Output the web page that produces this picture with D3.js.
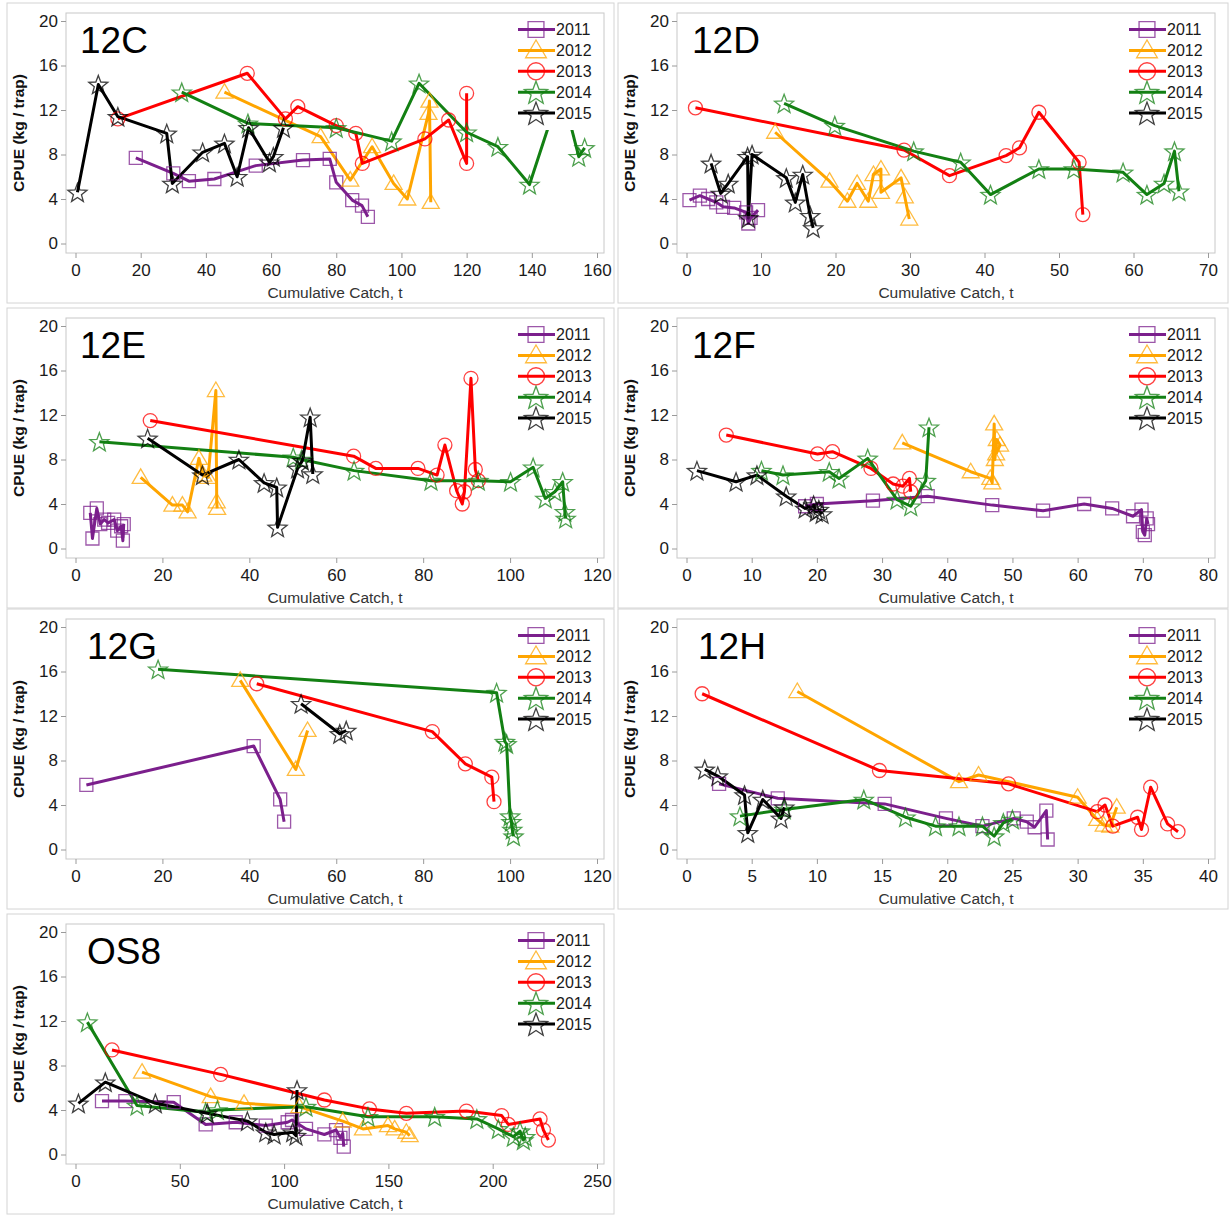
<!DOCTYPE html>
<html>
<head>
<meta charset="utf-8">
<script src="https://cdn.jsdelivr.net/npm/d3@7"></script>
<style>
  body { margin: 0; background: #fff; }
  svg text { font-family: "Liberation Sans", Arial, sans-serif; }
</style>
</head>
<body>
<div id="chart"></div>
<script>
const years = ["2011", "2012", "2013", "2014", "2015"];
const colors = ["#7b1f8c", "#ffa500", "#ff0000", "#138013", "#000000"];
const shapes = ["square", "triangle", "circle", "star", "star"];

const panelNames = ["12C", "12D", "12E", "12F", "12G", "12H", "OS8"];
const xMax = [160, 70, 120, 80, 120, 40, 250];
const xStep = [20, 10, 20, 10, 20, 5, 50];
const yTicks = [0, 4, 8, 12, 16, 20];

// [cumulative catch t, CPUE kg/trap]
const c12C_2011 = [[18.5,7.7],[30,6.3],[34.8,5.6],[42.6,5.8],[55.3,7.0],[69.8,7.5],[78,7.6],[80,5.5],[84.9,3.9],[87.9,3.4],[89.7,2.4]];
const c12C_2012 = [[45.7,13.6],[75.2,9.6],[84.3,5.7],[91,8.7],[97.6,5.4],[101.8,4.0],[108.3,11.7],[108.6,12.8],[109,3.7]];
const c12C_2013 = [[13,11.2],[52.7,15.3],[64.4,11.2],[68.2,12.3],[80,10.6],[86,9.9],[88,7.2],[107.2,9.4],[114.5,11.1],[120,7.2],[120,13.5]];
const c12C_2014 = [[32.6,13.6],[52.9,10.8],[80,10.4],[97,9.2],[105.4,14.4],[120,10.0],[129.6,8.7],[139.3,5.3],[149,14.0],[154.4,7.8],[156.2,8.6]];
const c12C_2015 = [[0.6,4.6],[7,14.3],[13,11.4],[28,9.9],[29.7,5.4],[39,8.2],[45.7,9.0],[49.6,6.0],[53.1,10.4],[59.5,7.3],[60.7,7.8],[63.8,10.4]];

const c12D_2011 = [[0.4,3.9],[1.8,4.3],[2.9,4.0],[4.0,3.7],[4.9,3.3],[6.4,3.2],[8.0,2.8],[8.3,1.8],[8.6,2.3],[9.6,3.0]];
const c12D_2012 = [[11.9,10.0],[19.2,5.6],[21.6,3.8],[22.9,5.4],[24.4,3.8],[25.1,6.2],[26.1,6.7],[26.1,4.6],[28.8,5.9],[29.3,4.2],[29.9,2.2]];
const c12D_2013 = [[1.2,12.2],[29.2,8.4],[35.3,6.1],[42.9,7.9],[44.7,8.6],[47.3,11.8],[52.7,7.3],[53.2,2.6]];
const c12D_2014 = [[13.1,12.6],[19.9,10.6],[30.5,8.3],[36.8,7.3],[40.8,4.4],[47.3,6.7],[52.0,6.7],[58.6,6.4],[61.8,4.4],[64.1,5.4],[65.5,8.3],[66.1,4.7]];
const c12D_2015 = [[3.3,7.2],[4.6,4.5],[5.6,5.4],[8.2,7.8],[8.3,2.3],[8.8,8.0],[13.4,5.9],[14.6,3.7],[15.6,6.2],[16.6,2.5],[17.0,1.4]];

const c12E_2011 = [[3.4,3.2],[3.9,0.9],[4.9,3.6],[5.7,2.2],[6.6,2.6],[7.5,2.3],[8.9,2.6],[9.6,1.6],[10.5,2.0],[10.9,0.7],[11.1,2.2]];
const c12E_2012 = [[15.0,6.4],[22.3,3.9],[24.6,3.9],[25.8,3.3],[28.4,8.1],[29.4,6.6],[30.5,6.4],[32.3,14.2],[32.5,4.2],[32.6,3.6]];
const c12E_2013 = [[17.2,11.5],[64,8.3],[69.1,7.2],[78.8,7.2],[83.2,6.6],[85,9.3],[87.7,5.2],[89,4.0],[89.5,5.1],[91,15.3],[92,7.1],[92.7,6.1]];
const c12E_2014 = [[5.5,9.6],[50.1,8.2],[52,8.0],[64.1,7.0],[81.8,6.1],[92.7,6.1],[100.1,6.0],[105.3,7.3],[108.1,4.5],[110.3,5.1],[112.1,6.0],[112.6,3.3],[112.8,2.7]];
const c12E_2015 = [[16.6,9.9],[29.2,6.6],[37.6,8.0],[43.4,5.9],[46.3,5.5],[46.5,1.9],[51.1,7.2],[52.2,7.9],[54.0,11.8],[54.6,6.7]];

const c12F_2011 = [[18.2,3.8],[20.0,4.0],[28.6,4.3],[37,4.7],[46.9,3.9],[54.7,3.4],[61,4.0],[65.3,3.6],[68.5,2.9],[69.8,3.5],[70.0,1.5],[70.3,1.2],[70.6,2.7],[70.8,2.2]];
const c12F_2012 = [[33.1,9.5],[43.6,6.9],[46.6,6.3],[46.9,5.9],[47.2,11.2],[47.3,8.0],[47.6,9.8],[48.1,9.3],[47.5,8.5]];
const c12F_2013 = [[6.1,10.2],[20.1,8.5],[22.4,8.7],[28.3,7.2],[31.7,5.8],[33.2,5.6],[34.2,6.3],[34.4,5.1]];
const c12F_2014 = [[11.5,7.0],[14.8,6.6],[21.9,6.9],[23.4,6.3],[27.8,8.1],[32.3,4.4],[34.4,3.8],[36.7,6.1],[37.2,10.9]];
const c12F_2015 = [[1.6,7.0],[7.6,6.0],[10.8,6.6],[15.3,4.7],[18.2,3.6],[19.5,3.9],[19.9,3.3],[20.3,3.5],[20.8,3.1]];

const c12G_2011 = [[2.5,5.8],[41,9.3],[47.1,4.5],[48,2.5]];
const c12G_2012 = [[37.9,15.2],[50.7,7.2],[53.4,10.7]];
const c12G_2013 = [[41.7,14.9],[82.1,10.6],[89.7,7.7],[95.8,6.5],[96.3,4.3]];
const c12G_2014 = [[19,16.2],[96.9,14.1],[98.8,9.7],[99.2,9.5],[100,3.0],[100.3,2.5],[100.5,1.8],[100.8,1.2]];
const c12G_2015 = [[51.9,13.1],[60.8,10.4],[62.3,10.7]];

const c12H_2011 = [[2.5,5.9],[7.0,4.6],[15.2,4.1],[19.9,2.8],[22.7,2.1],[25.1,2.8],[26.1,2.5],[26.7,2.0],[27.6,3.5],[27.7,0.9]];
const c12H_2012 = [[8.5,14.2],[20.9,6.1],[22.4,6.7],[30.0,4.7],[31.5,2.7],[32.0,2.2],[32.5,2.1],[33.0,3.8]];
const c12H_2013 = [[1.2,14.0],[14.8,7.1],[24.7,5.9],[31.5,3.4],[32.1,4.0],[32.7,2.1],[34.6,2.9],[34.9,1.8],[35.6,5.6],[36.9,2.3],[37.7,1.6]];
const c12H_2014 = [[4.1,3.0],[7.5,3.6],[13.6,4.5],[16.8,2.9],[19.1,2.1],[20.9,2.1],[22.7,2.1],[23.6,1.2],[24.3,2.4],[25.0,2.7]];
const c12H_2015 = [[1.4,7.2],[2.4,6.6],[4.45,4.9],[4.7,1.5],[5.85,4.5],[7.25,2.8],[7.5,3.8]];

const cOS8_2011 = [[12.7,4.8],[23.9,4.8],[47.1,4.7],[62.4,2.7],[76.8,2.9],[91.2,2.6],[101.7,2.9],[103.8,3.1],[110.5,2.3],[119.3,1.8],[124.9,2.2],[127.0,1.5],[128.1,1.9],[128.6,0.7]];
const cOS8_2012 = [[31.9,7.4],[64.8,5.2],[80.8,4.6],[107.3,4.3],[128.1,3.0],[137.8,2.3],[149.8,2.6],[153,2.3],[158.6,2.0],[160.2,1.7]];
const cOS8_2013 = [[17.5,9.4],[69.6,7.2],[119.3,4.9],[140.9,4.1],[158.6,3.7],[187.4,3.9],[204.3,3.5],[207.5,2.7],[222.7,3.2],[224.3,2.2],[226.7,1.3]];
const cOS8_2014 = [[5.7,11.9],[29.5,4.4],[62.4,3.8],[68,4.0],[110.5,4.3],[140.2,3.4],[172.2,3.4],[192.4,3.2],[202.7,2.3],[209.9,1.6],[213.1,2.1],[214.7,1.3],[215.6,1.6]];
const cOS8_2015 = [[1.4,4.6],[14.3,6.5],[38.3,4.6],[63.2,3.7],[82.4,3.0],[91.2,2.0],[95.2,1.8],[104.1,2.0],[105.7,1.7],[106.2,5.8]];

const seriesByPanel = [
  [c12C_2011, c12C_2012, c12C_2013, c12C_2014, c12C_2015],
  [c12D_2011, c12D_2012, c12D_2013, c12D_2014, c12D_2015],
  [c12E_2011, c12E_2012, c12E_2013, c12E_2014, c12E_2015],
  [c12F_2011, c12F_2012, c12F_2013, c12F_2014, c12F_2015],
  [c12G_2011, c12G_2012, c12G_2013, c12G_2014, c12G_2015],
  [c12H_2011, c12H_2012, c12H_2013, c12H_2014, c12H_2015],
  [cOS8_2011, cOS8_2012, cOS8_2013, cOS8_2014, cOS8_2015]
];

// layout
const colX = [7, 618];
const colW = [607, 610];
const rowY = [3, 308, 609, 914];
const panelH = 300;
const titleX = [73, 74, 73, 74, 80, 80, 80];

function markerPath(shape) {
  if (shape === "square") return "M-6.5,-6.5H6.5V6.5H-6.5Z";
  if (shape === "triangle") return "M0,-8.5L8.5,6L-8.5,6Z";
  if (shape === "circle") return "M7,0A7,7 0 1,1 -7,0A7,7 0 1,1 7,0Z";
  // five-point star
  const pts = d3.range(10).map((i) => {
    const r = i % 2 === 0 ? 10 : 4.2;
    const a = -Math.PI / 2 + (i * Math.PI) / 5;
    return [r * Math.cos(a), r * Math.sin(a) + 1];
  });
  return "M" + pts.map((p) => p.join(",")).join("L") + "Z";
}

const svg = d3
  .select("#chart")
  .append("svg")
  .attr("width", 1231)
  .attr("height", 1217);

panelNames.forEach((name, p) => {
  const col = p % 2;
  const row = Math.floor(p / 2);
  const px = colX[col];
  const py = rowY[row];

  const g = svg.append("g");

  // panel border
  g.append("rect")
    .attr("x", px)
    .attr("y", py)
    .attr("width", colW[col])
    .attr("height", panelH)
    .attr("fill", "none")
    .attr("stroke", "#d4d4d4")
    .attr("stroke-width", 1);

  const frame = { left: px + 59, right: px + 597, top: py + 10, bottom: py + 250 };

  const x = d3.scaleLinear().domain([0, xMax[p]]).range([px + 68.5, px + 590]);
  const y = d3.scaleLinear().domain([0, 20]).range([py + 240.5, py + 18]);

  // plot frame
  g.append("rect")
    .attr("x", frame.left)
    .attr("y", frame.top)
    .attr("width", frame.right - frame.left)
    .attr("height", frame.bottom - frame.top)
    .attr("fill", "none")
    .attr("stroke", "#c8c8c8");

  // axes
  const yAxis = d3.axisLeft(y).tickValues(yTicks).tickSize(5).tickPadding(3);
  g.append("g")
    .attr("transform", `translate(${frame.left},0)`)
    .call(yAxis)
    .call((a) => a.select(".domain").remove())
    .call((a) => a.selectAll("line").attr("stroke", "#9a9a9a"))
    .call((a) =>
      a.selectAll("text").attr("font-size", 17).attr("fill", "#1a1a1a")
        .attr("font-family", "Liberation Sans, Arial, sans-serif")
    );

  const xAxis = d3
    .axisBottom(x)
    .tickValues(d3.range(0, xMax[p] + 0.001, xStep[p]))
    .tickSize(5)
    .tickPadding(6);
  g.append("g")
    .attr("transform", `translate(0,${frame.bottom})`)
    .call(xAxis)
    .call((a) => a.select(".domain").remove())
    .call((a) => a.selectAll("line").attr("stroke", "#9a9a9a"))
    .call((a) =>
      a.selectAll("text").attr("font-size", 17).attr("fill", "#1a1a1a")
        .attr("font-family", "Liberation Sans, Arial, sans-serif")
    );

  // axis titles
  g.append("text")
    .attr("x", (frame.left + frame.right) / 2)
    .attr("y", py + 295)
    .attr("text-anchor", "middle")
    .attr("font-size", 15.5)
    .attr("fill", "#333")
    .text("Cumulative Catch, t");

  g.append("text")
    .attr("transform", `translate(${px + 11},${py + 130}) rotate(-90)`)
    .attr("text-anchor", "middle")
    .attr("dominant-baseline", "central")
    .attr("font-size", 15.5)
    .attr("font-weight", "bold")
    .attr("fill", "#111")
    .text("CPUE (kg / trap)");

  // lines
  const line = d3.line().x((d) => x(d[0])).y((d) => y(d[1]));
  const series = seriesByPanel[p];

  series.forEach((data, i) => {
    g.append("path")
      .datum(data)
      .attr("d", line)
      .attr("fill", "none")
      .attr("stroke", colors[i])
      .attr("stroke-width", 3)
      .attr("stroke-linejoin", "round");
  });

  // markers
  series.forEach((data, i) => {
    g.append("g")
      .selectAll("path")
      .data(data)
      .join("path")
      .attr("d", markerPath(shapes[i]))
      .attr("transform", (d) => `translate(${x(d[0])},${y(d[1])})`)
      .attr("fill", "none")
      .attr("stroke", colors[i])
      .attr("stroke-opacity", 0.75)
      .attr("stroke-width", 1.3);
  });

  // panel title
  g.append("text")
    .attr("x", px + titleX[p])
    .attr("y", py + 50)
    .attr("font-family", "Open Sans, sans-serif")
    .attr("font-size", 37)
    .attr("fill", "#000")
    .text(name);

  // legend with white background
  g.append("rect")
    .attr("x", px + 504)
    .attr("y", py + 12)
    .attr("width", 92)
    .attr("height", 115)
    .attr("fill", "#fff");

  years.forEach((yr, i) => {
    const ly = py + 26.5 + i * 20.9;
    const lg = g.append("g");
    lg.append("line")
      .attr("x1", px + 511)
      .attr("x2", px + 548)
      .attr("y1", ly)
      .attr("y2", ly)
      .attr("stroke", colors[i])
      .attr("stroke-width", 3);
    lg.append("path")
      .attr("d", markerPath(shapes[i]))
      .attr("transform", `translate(${px + 529},${ly}) scale(1.22)`)
      .attr("fill", "none")
      .attr("stroke", colors[i])
      .attr("stroke-opacity", 0.75)
      .attr("stroke-width", 1.1);
    lg.append("text")
      .attr("x", px + 549)
      .attr("y", ly)
      .attr("dominant-baseline", "central")
      .attr("font-size", 16)
      .attr("fill", "#1a1a1a")
      .text(yr);
  });
});
</script>
</body>
</html>
